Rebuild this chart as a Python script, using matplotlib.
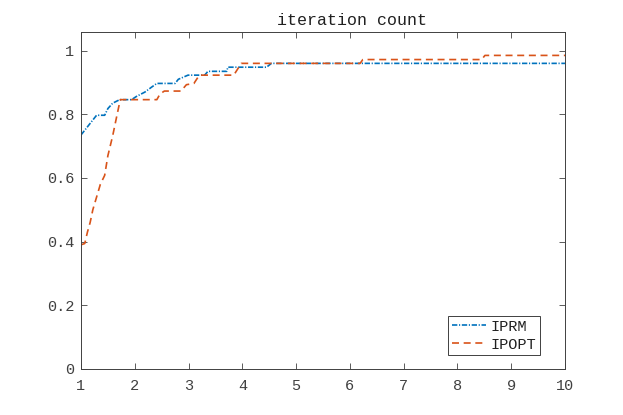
import matplotlib
matplotlib.use("Agg")
import matplotlib.pyplot as plt

title = "iteration count"
labels = ["IPRM", "IPOPT"]

iprm_x = [1.0, 1.29, 1.44, 1.5, 1.59, 1.72, 1.94, 2.03, 2.19, 2.31, 2.41, 2.75, 2.81, 2.99,
          3.3, 3.36, 3.71, 3.73, 4.45, 4.54, 10.0]
iprm_y = [0.735, 0.797, 0.797, 0.818, 0.835, 0.846, 0.846, 0.856, 0.870, 0.885, 0.897, 0.897,
          0.910, 0.923, 0.923, 0.935, 0.935, 0.948, 0.948, 0.960, 0.960]

ipopt_x = [1.0, 1.07, 1.12, 1.17, 1.22, 1.29, 1.36, 1.44, 1.5, 1.59, 1.66, 1.73, 2.41, 2.47,
           2.55, 2.86, 2.96, 3.1, 3.2, 3.84, 3.98, 6.19, 6.24, 8.45, 8.51, 10.0]
ipopt_y = [0.39, 0.394, 0.43, 0.46, 0.50, 0.54, 0.58, 0.608, 0.67, 0.733, 0.79, 0.846, 0.846,
           0.864, 0.873, 0.873, 0.893, 0.897, 0.923, 0.923, 0.960, 0.960, 0.972, 0.972, 0.985, 0.985]

xticks = [1, 2, 3, 4, 5, 6, 7, 8, 9, 10]
yticks = [0, 0.2, 0.4, 0.6, 0.8, 1]
yticklabels = ["0", "0.2", "0.4", "0.6", "0.8", "1"]

plt.rcParams['font.family'] = ['Liberation Mono', 'DejaVu Sans Mono']

fig = plt.figure(figsize=(6.23, 4.15), dpi=100)
ax = fig.add_axes([0.13, 0.111, 0.777, 0.813])

ax.plot(iprm_x, iprm_y, linestyle=(0, (3.2, 1.0, 0.7, 1.0)), color='#0072BD',
        linewidth=1.2, label=labels[0])
ax.plot(ipopt_x, ipopt_y, linestyle=(0, (4.2, 2.8)), color='#D95319',
        linewidth=1.2, label=labels[1])

ax.set_xlim(1, 10)
ax.set_ylim(0, 1.06)
ax.set_xticks(xticks)
ax.set_xticklabels([str(t) for t in xticks])
ax.set_yticks(yticks)
ax.set_yticklabels(yticklabels)
ax.tick_params(direction='in', length=4, width=0.6, colors='#404040', labelsize=11,
               top=True, right=True)
ax.tick_params(axis='x', pad=7)
ax.tick_params(axis='y', pad=5)
for s in ax.spines.values():
    s.set_color('#404040')
    s.set_linewidth(0.7)

ax.set_title(title, fontsize=12, color='#202020', pad=5, x=0.56)

leg = ax.legend(loc='lower right', bbox_to_anchor=(0.948, 0.04), fontsize=11, fancybox=False,
                framealpha=1, edgecolor='#404040', handlelength=2.2, borderpad=0.25,
                labelspacing=0.25, handletextpad=0.3, borderaxespad=0)
leg.get_frame().set_linewidth(0.7)
for t in leg.get_texts():
    t.set_color('#202020')

fig.savefig("out.png", dpi=100)
